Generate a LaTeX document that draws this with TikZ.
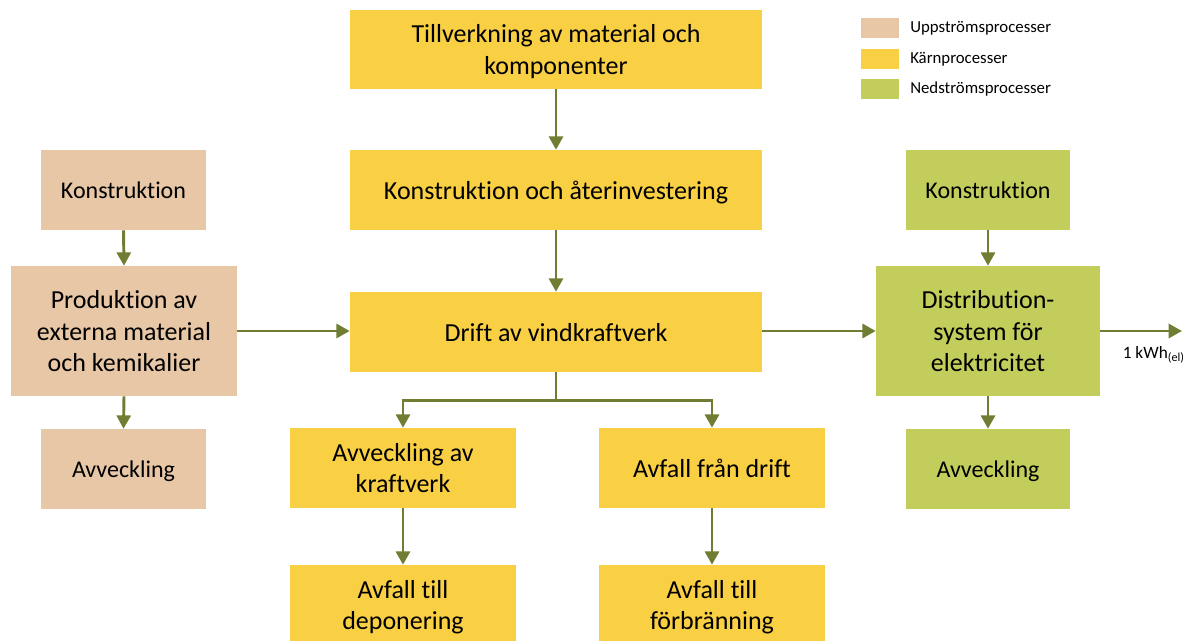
\documentclass[tikz,border=0pt]{standalone}
\usepackage{fontspec}
\setmainfont[Ligatures=NoCommon]{Carlito}
\usetikzlibrary{arrows.meta}
\definecolor{upstream}{HTML}{E8C7A6}
\definecolor{core}{HTML}{F9CF44}
\definecolor{downstream}{HTML}{C3CD5B}
\definecolor{flow}{HTML}{6F7E33}
\tikzset{
  box/.style={rectangle, inner sep=2pt, align=center, text=black, text depth=0pt,
    font=\fontsize{19.5}{23.8}\selectfont},
  smallbox/.style={font=\fontsize{18}{22}\selectfont},
  upbox/.style={box, fill=upstream},
  corebox/.style={box, fill=core},
  downbox/.style={box, fill=downstream},
  swatch/.style={rectangle, minimum width=28.5pt, minimum height=15pt, inner sep=0pt},
  legtext/.style={anchor=west, inner sep=0pt, font=\fontsize{12.6}{14}\selectfont},
  arr/.style={draw=flow, line width=2.2pt,
    -{Triangle[width=10.5pt,length=10pt]}},
}
\begin{document}
\begin{tikzpicture}[x=0.75pt, y=-0.75pt]
\useasboundingbox (0,0) rectangle (1185,641);

% core processes
\node[corebox, minimum width=309pt, minimum height=59pt] (tillv) at (556,49.5)
  {Tillverkning av material och\\komponenter};
\node[corebox, minimum width=309pt, minimum height=60pt] (konst) at (556,190)
  {Konstruktion och återinvestering};
\node[corebox, minimum width=309pt, minimum height=60pt] (drift) at (556,332)
  {Drift av vindkraftverk};
\node[corebox, minimum width=169.5pt, minimum height=60pt] (avk) at (403,468)
  {Avveckling av\\kraftverk};
\node[corebox, minimum width=169.5pt, minimum height=60pt] (avd) at (712,468)
  {Avfall från drift};
\node[corebox, minimum width=169.5pt, minimum height=60pt] (dep) at (403,605)
  {Avfall till\\deponering};
\node[corebox, minimum width=169.5pt, minimum height=60pt] (forb) at (712,605)
  {Avfall till\\förbränning};

% upstream processes
\node[upbox, smallbox, minimum width=124pt, minimum height=60pt] (lkon) at (123.5,190)
  {Konstruktion};
\node[upbox, minimum width=169.5pt, minimum height=97.5pt] (prod) at (124,331)
  {Produktion av\\externa material\\och kemikalier};
\node[upbox, smallbox, minimum width=124pt, minimum height=60pt] (lavv) at (123.5,469)
  {Avveckling};

% downstream processes
\node[downbox, smallbox, minimum width=123pt, minimum height=60pt] (rkon) at (988,190)
  {Konstruktion};
\node[downbox, minimum width=168pt, minimum height=97.5pt] (dist) at (988,331)
  {Distribution-\\system för\\elektricitet};
\node[downbox, smallbox, minimum width=123pt, minimum height=60pt] (ravv) at (988,469)
  {Avveckling};

% flows
\draw[arr] (tillv.south) -- (konst.north);
\draw[arr] (konst.south) -- (drift.north);
\draw[arr] (drift.south) -- ++(0,28) coordinate (br) -| (avk.north);
\draw[arr] (br) -| (avd.north);
\draw[arr] (avk.south) -- (dep.north);
\draw[arr] (avd.south) -- (forb.north);
\draw[arr] (lkon.south) -- (prod.north);
\draw[arr] (prod.south) -- (lavv.north);
\draw[arr] (prod.east) -- (drift.west |- prod.east);
\draw[arr] (drift.east |- dist.west) -- (dist.west);
\draw[arr] (rkon.south) -- (dist.north);
\draw[arr] (dist.south) -- (ravv.north);
\coordinate (out) at (1182,331);
\draw[arr] (dist.east) -- (out);
\node[anchor=north east, inner sep=0pt, font=\fontsize{13}{14}\selectfont]
  (kwh) at (1185,346) {1 kWh\textsubscript{(el)}};

% legend
\node[swatch, fill=upstream] (s1) at (880,28) {};
\node[swatch, fill=core] (s2) at (880,59) {};
\node[swatch, fill=downstream] (s3) at (880,89) {};
\node[legtext] (l1) at (910,28) {Uppströmsprocesser};
\node[legtext] (l2) at (910,59) {Kärnprocesser};
\node[legtext] (l3) at (910,89) {Nedströmsprocesser};
\end{tikzpicture}
\end{document}
